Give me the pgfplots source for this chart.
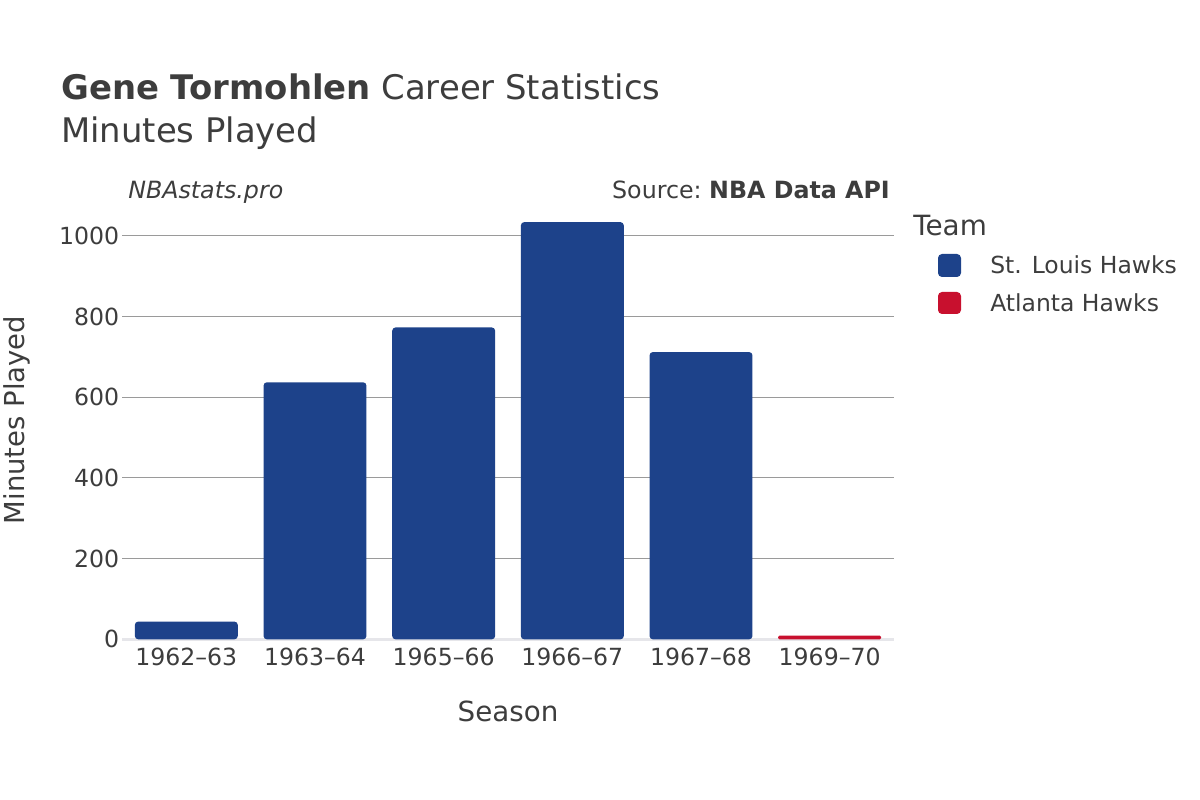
\documentclass[border=0pt]{standalone}
\usepackage{pgfplots}
\pgfplotsset{compat=1.18}
\usepackage{fontspec}
\setmainfont{DejaVu Sans}
\definecolor{txt}{HTML}{3D3D3D}
\definecolor{stl}{HTML}{1D428A}
\definecolor{atl}{HTML}{C8102E}
\definecolor{gridc}{HTML}{9A9A9A}
\definecolor{zeroc}{HTML}{E6E6EA}

\begin{document}
\begin{tikzpicture}[x=0.75pt,y=0.75pt]
\useasboundingbox (0,0) rectangle (1200,800);
\begin{axis}[
    at={(91.5pt,120.5pt)}, anchor=south west,
    scale only axis, width=579pt, height=329.25pt,
    xmin=-0.5, xmax=5.5, ymin=0, ymax=1088,
    axis line style={draw=none},
    major tick length=0pt,
    ymajorgrids, grid style={gridc, line width=0.8pt},
    ytick={0,200,400,600,800,1000},
    xtick={0,1,2,3,4,5},
    xticklabels={1962–63,1963–64,1965–66,1966–67,1967–68,1969–70},
    /pgf/number format/assume math mode=true,
    /pgf/number format/1000 sep={},
    tick label style={font=\fontsize{17.7}{20}\selectfont, text=txt, inner sep=0pt},
    yticklabel style={xshift=-2pt},
    xticklabel style={yshift=-6pt},
    clip=false,
]
\draw[zeroc, line width=2.2pt] (axis cs:-0.5,0) -- (axis cs:5.5,0);
\addplot[ybar, bar width=0.8, bar shift=0pt, fill=stl, draw=none, rounded corners=2.5pt]
    coordinates {(0,44) (1,637) (2,773) (3,1034) (4,712)};
\addplot[ybar, bar width=0.8, bar shift=0pt, fill=atl, draw=none, rounded corners=1pt]
    coordinates {(5,9)};
\end{axis}

\node[anchor=base west, inner sep=0pt, text=txt, font=\fontsize{25.4}{30}\selectfont] at (61,700) {\textbf{Gene Tormohlen} Career Statistics};
\node[anchor=base west, inner sep=0pt, text=txt, font=\fontsize{25.4}{30}\selectfont] at (61,657) {Minutes Played};
\node[anchor=base west, inner sep=0pt, text=txt, font=\fontsize{17.8}{20}\selectfont\itshape] at (128,601) {NBAstats.pro};
\node[anchor=base east, inner sep=0pt, text=txt, font=\fontsize{17.8}{20}\selectfont] at (890,601) {Source:~\textbf{NBA Data API}};
\node[rotate=90, inner sep=0pt, text=txt, font=\fontsize{20.6}{24}\selectfont] at (17,380) {Minutes Played};
\node[inner sep=0pt, text=txt, font=\fontsize{20.8}{24}\selectfont] at (508,89) {Season};
\node[anchor=base west, inner sep=0pt, text=txt, font=\fontsize{20.9}{24}\selectfont] at (913,564) {Team};
\fill[stl, rounded corners=3pt] (938,546) rectangle (961,523);
\fill[atl, rounded corners=3pt] (938,508) rectangle (961,486);
\node[anchor=base west, inner sep=0pt, text=txt, font=\fontsize{17.6}{20}\selectfont] at (990,526) {St. Louis Hawks};
\node[anchor=base west, inner sep=0pt, text=txt, font=\fontsize{17.6}{20}\selectfont] at (990,488) {Atlanta Hawks};
\end{tikzpicture}
\end{document}
